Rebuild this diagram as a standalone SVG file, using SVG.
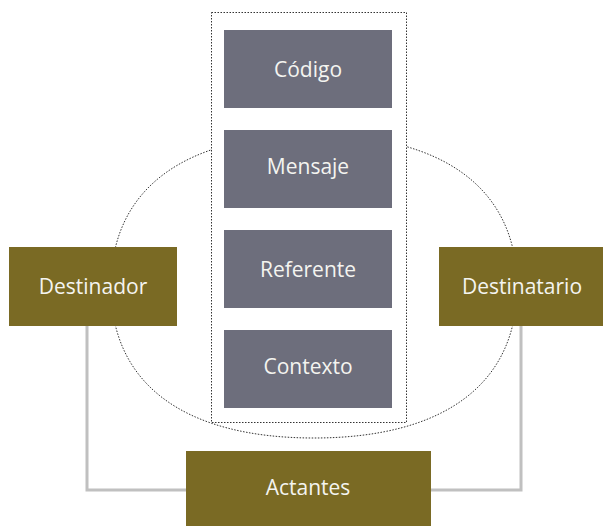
<svg xmlns="http://www.w3.org/2000/svg" width="603" height="526" viewBox="0 0 603 526">
<style>
.dot{fill:none;stroke:#333;stroke-width:1;stroke-dasharray:1.5 1.5}
.g{fill:#6d6e7c}
.o{fill:#7a6a24}
.t{font-family:"Open Sans","Noto Sans",sans-serif;font-size:21px;fill:#f4f4f0;text-anchor:middle;dominant-baseline:central}
.c{fill:none;stroke:#c0c0c0;stroke-width:3}
</style>
<rect width="603" height="526" fill="#fff"/>
<g id="connectors">
<path class="c" d="M87,326 V490 H186"/>
<path class="c" d="M521,326 V490 H431"/>
</g>
<g id="ellipse">
<path class="dot" d="M111,286.5 C111,189.5 183.5,135 314,135 C444.5,135 517,189.5 517,286.5 C517,383.5 444.5,438 314,438 C183.5,438 111,383.5 111,286.5 Z"/>
</g>
<g id="frame">
<rect x="211.5" y="12.5" width="195" height="410" class="dot" style="fill:#fff"/>
</g>
<g id="codigo"><rect class="g" x="224" y="30" width="168" height="78"/><text class="t" x="308" y="69">Código</text></g>
<g id="mensaje"><rect class="g" x="224" y="130" width="168" height="78"/><text class="t" x="308" y="166">Mensaje</text></g>
<g id="referente"><rect class="g" x="224" y="230" width="168" height="78"/><text class="t" x="308" y="269">Referente</text></g>
<g id="contexto"><rect class="g" x="224" y="330" width="168" height="78"/><text class="t" x="308" y="366">Contexto</text></g>
<g id="destinador"><rect class="o" x="9" y="247" width="168" height="79"/><text class="t" x="93" y="286">Destinador</text></g>
<g id="destinatario"><rect class="o" x="439" y="247" width="164" height="79"/><text class="t" x="522" y="286">Destinatario</text></g>
<g id="actantes"><rect class="o" x="186" y="451" width="245" height="75"/><text class="t" x="308" y="487">Actantes</text></g>
</svg>
